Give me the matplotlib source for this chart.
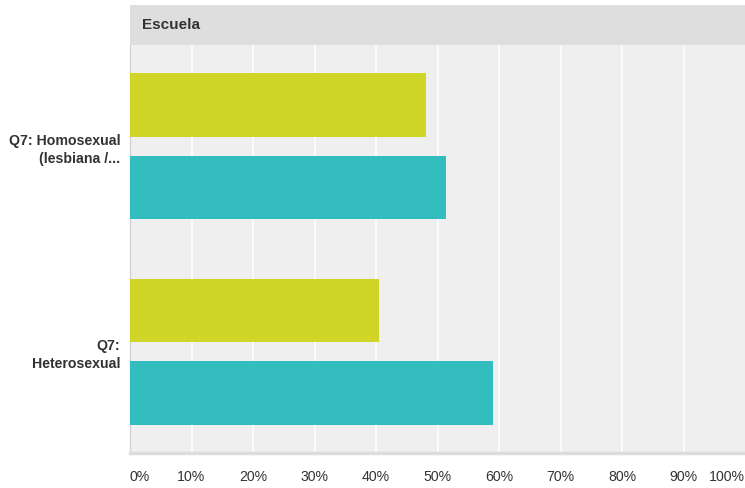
import numpy as np
import matplotlib.pyplot as plt

categories = ["Q7: Homosexual\n(lesbiana /...", "Q7:\nHeterosexual"]
serie_a = [48.1, 40.5]   # amarillo
serie_b = [51.4, 59.0]   # turquesa
ticks = [0, 10, 20, 30, 40, 50, 60, 70, 80, 90, 100]
tick_labels = [f"{t}%" for t in ticks]
titulo = "Escuela"

plt.rcParams['font.family'] = ['Liberation Sans', 'DejaVu Sans']

W, H = 745, 488
fig = plt.figure(figsize=(W / 100, H / 100), dpi=100)

# area del grafico (pixeles -> fracciones)
left, right = 130 / W, 1.0
bottom, top = (H - 453) / H, (H - 45) / H
ax = fig.add_axes([left, bottom, right - left, top - bottom])
ax.set_facecolor('#efefef')

# cabecera gris con el titulo
hdr = fig.add_axes([left, (H - 45) / H, right - left, 40 / H])
hdr.set_facecolor('#dedede')
hdr.set_xticks([]); hdr.set_yticks([])
for s in hdr.spines.values():
    s.set_visible(False)
hdr.text(12 / 615, 0.5, titulo, transform=hdr.transAxes, ha='left', va='center',
         fontsize=11, fontweight='bold', color='#333333')

y = np.arange(len(categories))
h = 0.312
off = 0.2
ax.barh(y - off, serie_a, height=h, color='#d0d628', zorder=3)
ax.barh(y + off, serie_b, height=h, color='#33bdbf', zorder=3)

ax.set_xlim(0, 100)
ax.set_ylim(1.495, -0.495)
for t in ticks[1:-1]:
    ax.axvline(t, color='white', lw=1.1, zorder=1)

ax.set_yticks(y)
ax.set_yticklabels(categories, fontsize=10.2, fontweight='bold', color='#333333',
                   linespacing=1.35)
ax.tick_params(axis='y', length=0, pad=7)

ax.set_xticks(ticks)
ax.set_xticklabels(tick_labels, fontsize=10.2, color='#333333')
ax.tick_params(axis='x', length=0, pad=12)
xl = ax.get_xticklabels()
xl[0].set_ha('left')
xl[-1].set_ha('right')

for s in ['top', 'right']:
    ax.spines[s].set_visible(False)
ax.spines['left'].set_color('#d4d4d4')
ax.spines['left'].set_linewidth(1)
ax.spines['bottom'].set_color('#dddddd')
ax.spines['bottom'].set_linewidth(2.5)

fig.savefig('out.png', dpi=100)
